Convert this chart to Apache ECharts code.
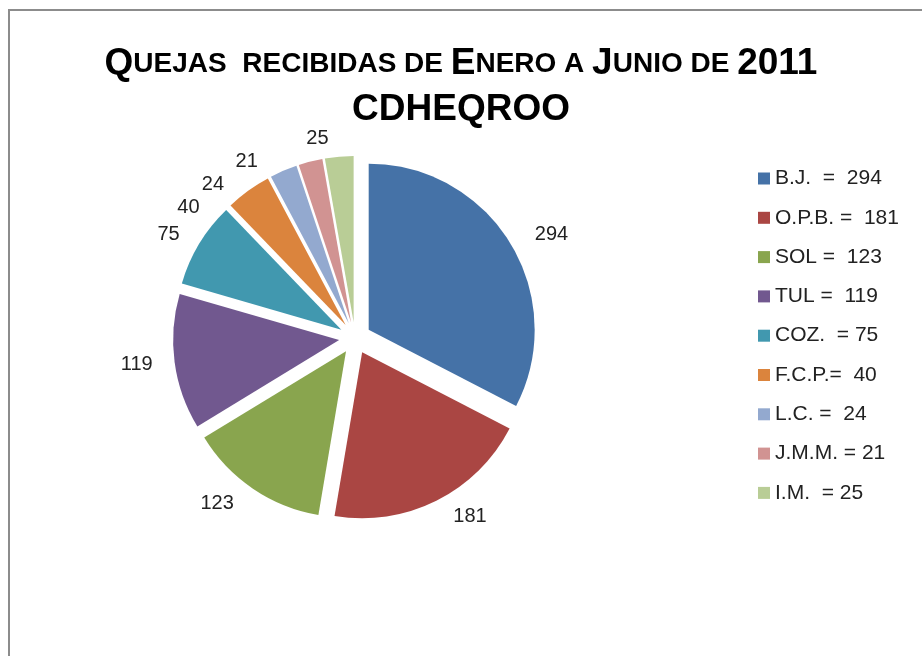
<!DOCTYPE html>
<html>
<head>
<meta charset="utf-8">
<script src="https://cdn.jsdelivr.net/npm/echarts@6/dist/echarts.min.js"></script>
<style>
  html, body { margin: 0; padding: 0; background: #fff; }
  #main { width: 922px; height: 656px; }
</style>
</head>
<body>
<div id="main"></div>
<script>
// datos de la gráfica
var names = ['B.J.', 'O.P.B.', 'SOL', 'TUL', 'COZ.', 'F.C.P.', 'L.C.', 'J.M.M.', 'I.M.'];
var values = [294, 181, 123, 119, 75, 40, 24, 21, 25];
var legendLabels = ['B.J.  =  294', 'O.P.B. =  181', 'SOL =  123', 'TUL =  119', 'COZ.  = 75',
  'F.C.P.=  40', 'L.C. =  24', 'J.M.M. = 21', 'I.M.  = 25'];
var colors = ['#4572A7', '#AA4643', '#89A54E', '#71588F', '#4198AF', '#DB843D', '#93A9CF', '#D19392', '#B9CD96'];

(function () {
  var data = names.map(function (n, i) {
    return { name: n, value: values[i], selected: true };
  });

  var option = {
    color: colors,
    animation: false,
    graphic: [
      {
        // marco del área de la gráfica
        type: 'rect',
        shape: { x: 9, y: 10, width: 940, height: 680 },
        style: { fill: 'none', stroke: '#8c8c8c', lineWidth: 2 },
        silent: true
      }
    ],
    title: {
      text: '{b|Q}{s|UEJAS  RECIBIDAS DE }{b|E}{s|NERO A }{b|J}{s|UNIO DE }{b|2011}\n{b|CDHEQROO}',
      left: 'center',
      top: 36,
      textStyle: {
        fontFamily: 'Liberation Sans',
        fontWeight: 'bold',
        color: '#000',
        rich: {
          b: { fontSize: 37, fontWeight: 'bold', fontFamily: 'Liberation Sans', lineHeight: 46, color: '#000' },
          s: { fontSize: 28, fontWeight: 'bold', fontFamily: 'Liberation Sans', lineHeight: 46, color: '#000' }
        }
      }
    },
    legend: {
      orient: 'vertical',
      left: 753,
      top: 163,
      itemWidth: 12,
      itemHeight: 12,
      itemGap: 18.3,
      icon: 'rect',
      selectedMode: false,
      data: names,
      formatter: function (name) {
        return legendLabels[names.indexOf(name)];
      },
      textStyle: { fontSize: 21, color: '#222', fontFamily: 'Liberation Sans' }
    },
    series: [
      {
        type: 'pie',
        center: [355, 338],
        radius: [0, 166],
        startAngle: 90,
        clockwise: true,
        selectedMode: 'multiple',
        selectedOffset: 16,
        emphasis: { scale: false },
        label: {
          show: true,
          position: 'outside',
          formatter: '{c}',
          fontSize: 20,
          color: '#222',
          fontFamily: 'Liberation Sans'
        },
        labelLine: { show: false, length: 18, length2: 4 },
        itemStyle: { borderColor: '#fff', borderWidth: 0 },
        data: data
      }
    ]
  };

  var myChart = echarts.init(document.getElementById('main'));
  myChart.setOption(option);
})();
</script>
</body>
</html>
